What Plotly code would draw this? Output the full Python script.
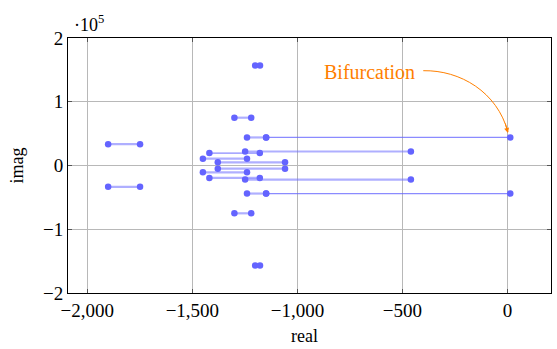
import plotly.graph_objects as go

# Eigenvalue trajectories: start real part, end real part, imaginary part
re_start = [-1901, -1901, -1300, -1300, -1201, -1201, -1240, -1240, -1149, -1149,
            -1419, -1419, -1249, -1249, -1450, -1450, -1379, -1379]
re_end = [-1749, -1749, -1220, -1220, -1178, -1178, -1149, -1149, 13, 13,
          -1179, -1179, -460, -460, -1240, -1240, -1059, -1059]
imag = [33500, -33500, 75000, -75000, 157000, -157000, 44000, -44000, 44000, -44000,
        19500, -19500, 22000, -22000, 10700, -10700, 5000, -5000]
style = ["light", "light", "light", "light", "light", "light", "light", "light", "dark", "dark",
         "dark", "light", "light", "light", "light", "light", "light", "light"]

x_ticks = [-2000, -1500, -1000, -500, 0]
x_ticktext = ["\u22122,000", "\u22121,500", "\u22121,000", "\u2212500", "0"]
y_ticks = [-200000, -100000, 0, 100000, 200000]
y_ticktext = ["\u22122", "\u22121", "0", "1", "2"]

FONT = "Liberation Serif, Times New Roman, serif"
fig = go.Figure()

for xs, xe, yi, st in zip(re_start, re_end, imag, style):
    if st == "light":
        line = dict(color="rgba(110,110,255,0.55)", width=2.2)
    else:
        line = dict(color="rgba(100,100,255,0.75)", width=1.3)
    fig.add_trace(go.Scatter(
        x=[xs, xe], y=[yi, yi], mode="lines+markers",
        line=line,
        marker=dict(color="#6464ff", size=6.5, line=dict(width=0)),
        showlegend=False, hoverinfo="skip"))

axis_common = dict(
    showgrid=True, gridcolor="#b8b8b8", gridwidth=1, automargin=False,
    zeroline=False, showline=True, linecolor="black", linewidth=1,
    mirror="ticks", ticks="inside", ticklen=4, tickcolor="#555555",
    tickfont=dict(family=FONT, size=19, color="black"),
)

fig.update_layout(
    width=557, height=349,
    margin=dict(l=68, r=6, t=38, b=56, autoexpand=False),
    paper_bgcolor="white", plot_bgcolor="white",
    font=dict(family=FONT),
    xaxis=dict(range=[-2092, 207], tickvals=x_ticks, ticktext=x_ticktext, **axis_common),
    yaxis=dict(range=[-200000, 200000], tickvals=y_ticks, ticktext=y_ticktext, **axis_common),
)

# axis titles
fig.add_annotation(x=0.49, y=0, xref="paper", yref="paper", yshift=-43, text="real",
                   showarrow=False, xanchor="center", yanchor="middle",
                   font=dict(family=FONT, size=18, color="black"))
fig.add_annotation(x=0, y=0.5, xref="paper", yref="paper", xshift=-52, text="imag",
                   showarrow=False, textangle=-90, xanchor="center", yanchor="middle",
                   font=dict(family=FONT, size=18, color="black"))

# exponent label
fig.add_annotation(x=0, y=1, xref="paper", yref="paper", xanchor="left", yanchor="bottom",
                   xshift=4, yshift=1, text="\u00b710<sup>5</sup>", showarrow=False,
                   font=dict(family=FONT, size=18, color="black"))

# Bifurcation label
fig.add_annotation(x=-659, y=146700, xref="x", yref="y", text="Bifurcation", showarrow=False,
                   font=dict(family=FONT, size=20, color="#ff8000"))

# curved arrow
fig.add_shape(type="path", xref="x", yref="y",
              path="M -401,148700 C -225,149800 -49,115300 2,52500",
              line=dict(color="#ff8000", width=1))
fig.add_annotation(x=2, y=51000, xref="x", yref="y", ax=-3, ay=-11, axref="pixel", ayref="pixel",
                   text="", showarrow=True, arrowhead=2, arrowsize=1, arrowwidth=1,
                   arrowcolor="#ff8000")

fig.write_html("out.html", config={"displayModeBar": False},
               post_script="document.body.style.margin='0';document.body.style.padding='0';")
